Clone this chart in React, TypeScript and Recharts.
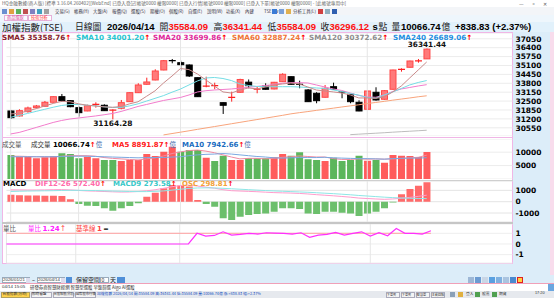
import React from 'react';
import { ComposedChart, Bar, Line, XAxis, YAxis, CartesianGrid, ReferenceLine, Cell } from 'recharts';

// ---------------- data ----------------
const dates = [
  '2026/01/21','2026/01/22','2026/01/23','2026/01/26','2026/01/27','2026/01/28','2026/01/29','2026/01/30',
  '2026/02/02','2026/02/03','2026/02/04','2026/02/05','2026/02/06','2026/02/09','2026/02/10','2026/02/11',
  '2026/02/23','2026/02/24','2026/02/25','2026/02/26',
  '2026/03/02','2026/03/03','2026/03/04','2026/03/05','2026/03/06','2026/03/09','2026/03/10','2026/03/11','2026/03/12','2026/03/13',
  '2026/03/16','2026/03/17','2026/03/18','2026/03/19','2026/03/20','2026/03/23','2026/03/24','2026/03/25','2026/03/26','2026/03/27',
  '2026/03/30','2026/03/31',
  '2026/04/01','2026/04/02','2026/04/07','2026/04/08','2026/04/09','2026/04/10','2026/04/13','2026/04/14',
];
const opens = [31779,31414,31728,32020,32122,32414,32823,32531,32020,31779,32239,32195,31830,31976,32458,33115,33728,34042,34772,35470,35305,35137,34210,33560,33600,32385,32750,33144,33882,33350,33604,33385,33918,34283,33750,33312,33071,32779,33553,33200,32998,32414,31903,33144,32633,33363,34790,34969,35430,35584.09];
const highs = [31852,31903,32093,32217,32509,32840,33020,32560,32120,32240,32414,32268,31903,32582,33150,33801,34210,34823,35502,35575,35451,35180,34230,34283,33845,32400,33188,34130,34078,33553,33801,33900,34530,34300,33991,33380,33150,33677,33845,33220,33020,32560,33260,33509,33300,34790,34896,35450,35575,36341.44];
const lows = [31195,31380,31655,31976,32100,32400,32458,32050,31363,31760,32020,31780,31164.28,31903,32440,33100,33700,34020,34750,35261,34721,34261,32800,33509,33363,31560,32458,33120,33436,33071,33340,33360,33900,33700,33436,32436,32341,32760,33340,32706,32341,31760,31880,32530,32610,33340,34648,34950,35305,35584.09];
const closes = [31290,31801,31998,32144,32414,32823,32531,32093,31655,32166,32290,31801,31852,32385,33115,33677,33896,34699,35451,35430,35159,34334,32823,33640,33650,32195,32800,34078,33626,33410,33363,33874,34458,33728,33700,32458,32531,33436,33363,33130,32458,31779,33239,32582,33261,34772,34850,35429,35457.29,36296.12];

const sma5 = [31560,31620,31780,31950,32140,32330,32480,32450,32300,32200,32140,32080,32050,32100,32300,32450,32850,33250,33820,34330,34880,34800,34480,34040,33600,33170,33090,33310,33460,33390,33530,33680,33750,33820,33750,33530,33310,33240,33170,33090,32950,32730,32730,32700,32800,33170,33600,34190,34770,35358.76];
const sma10 = [31320,31450,31600,31750,31900,32050,32180,32250,32250,32200,32150,32080,32030,32040,32150,32300,32500,32700,32900,33150,33380,33680,33970,34190,34225,34150,34000,33750,33640,33570,33550,33550,33550,33553,33530,33495,33460,33420,33312,33200,33057,32935,32765,32706,32947,33165,33420,33680,33860,34001.20];
const sma20 = [30100,30210,30390,30575,30757,30940,31085,31195,31268,31341,31414,31502,31597,31743,31925,32108,32254,32400,32546,32655,32765,32947,33166,33261,33312,33349,33385,33443,33509,33568,33640,33713,33801,33845,33845,33823,33677,33531,33385,33276,33093,32911,32801,32779,32947,33203,33385,33495,33604,33699.86];
const sma60 = [null,null,null,null,null,null,null,null,null,null,null,null,null,null,null,null,null,null,30030,30130,30230,30330,30436,30538,30640,30742,30845,30947,31049,31151,31254,31356,31458,31568,31655,31735,31823,31903,31984,32071,32151,32232,32319,32400,32480,32568,32648,32728,32816,32887.24];
const sma120 = [null,null,null,null,null,null,null,null,null,null,null,null,null,null,null,null,null,null,null,null,null,null,null,null,null,null,null,null,null,null,null,null,null,null,null,null,null,null,null,null,30050,30085,30120,30155,30190,30230,30265,30300,30335,30372.62];
const sma240Latest = 26689.06;

const volume = [8955,8321,8321,7724,8100,8582,9590,9340,7724,8321,7724,7090,7090,6716,7090,7090,9328,8582,10187,12052,10187,10820,10820,7948,6716,8694,7090,7090,7724,7724,7724,8100,9328,8694,9963,7351,7090,6716,7948,6716,7090,8694,6840,7090,6082,8955,8694,8582,8209,10066.74];
const volDir = [-1,1,1,1,1,1,-1,-1,-1,1,1,-1,-1,1,1,1,1,1,1,1,-1,-1,-1,1,-1,-1,1,1,-1,-1,-1,1,1,-1,-1,-1,-1,1,-1,-1,-1,-1,1,-1,1,1,1,1,1,1];
const volMa5 = [8500,8500,8400,8300,8300,8200,8500,8700,8700,8700,8500,8000,7700,7500,7300,7100,7500,7900,8600,9500,10100,10600,10800,10400,9800,9000,8200,7500,7700,7700,7500,7700,8100,8300,8600,8400,8200,8200,7600,7300,7300,7500,7400,7500,7400,7500,7700,7900,8100,8891.87];
const volMa10 = [8300,8300,8300,8300,8300,8300,8400,8500,8500,8500,8400,8300,8200,8100,8000,7900,8000,8000,8000,8200,8300,8700,9000,9200,9300,9500,9300,9000,8700,8400,8200,7900,7800,7900,8000,8000,8000,8100,7900,7800,7700,7600,7600,7500,7400,7600,7700,7800,7800,7942.66];

const dif = [1050,1040,1030,1030,1040,1060,1070,1040,990,950,930,900,870,850,860,900,960,1050,1180,1320,1430,1460,1380,1280,1190,1060,970,940,910,880,840,800,780,760,730,680,620,570,520,460,400,320,280,240,210,240,300,380,470,572.40];
const macd9 = [900,920,940,950,960,970,990,1000,1000,990,980,960,940,920,900,890,890,910,950,1020,1100,1170,1210,1220,1210,1180,1140,1100,1060,1020,980,950,920,890,860,830,790,750,710,660,610,550,500,450,400,360,330,300,285,273.58];
const osc = [620,560,540,540,530,520,500,210,-204,-354,-383,-584,-796,-584,-383,-142,442,796,1186,1480,1420,1330,150,-204,-442,-1469,-1619,-1325,-1177,-1090,-1030,-885,-584,-584,-643,-1030,-1090,-885,-885,-973,-1030,-1265,-1030,-885,-584,-60,652,1119,1410,1709];
const oscLatest = 298.81;

const volRatio = [0,0,0,0,0,0,0,0,0,0,0,0,0,0,0,0,0,0,0,0,0,0,1.0,0.74,0.8,1.14,0.83,0.9,1.0,0.93,1.05,1.02,1.0,0.93,1.05,0.62,0.83,0.9,1.08,0.83,1.0,1.14,0.74,1.05,0.77,1.45,1.0,1.0,0.93,1.24];
const ratioBase = 1;

const priceTicks = [30550,31200,31850,32500,33150,33800,34450,35100,35750,36400,37050];
const volTicks = [5000, 10000];
const macdTicks = [-1000, 0, 1000];
const ratioTicks = [-1, 0, 1];

// ---------------- derived table ----------------
const rows = dates.map((d, i) => ({
  d, o: opens[i], h: highs[i], l: lows[i], c: closes[i],
  s5: sma5[i], s10: sma10[i], s20: sma20[i], s60: sma60[i], s120: sma120[i],
  v: volume[i], vd: volDir[i], vm5: volMa5[i], vm10: volMa10[i],
  dif: dif[i], m9: macd9[i], osc: osc[i], vr: volRatio[i],
}));
const maxIdx = highs.indexOf(Math.max(...highs));
const minIdx = lows.indexOf(Math.min(...lows));
const monthTicks = dates.filter((d, i) => i === 0 || d.slice(5, 7) !== dates[i - 1].slice(5, 7));
const last = <T,>(a: T[]) => a[a.length - 1];
const n = dates.length;
const chg = closes[n - 1] - closes[n - 2];
const pct = (chg / closes[n - 2]) * 100;

// ---------------- styling ----------------
const CJK = '"Noto Sans CJK TC", "Noto Sans", sans-serif';
const DV = '"DejaVu Sans", Verdana, sans-serif';
const LS = '"Liberation Sans", Arial, sans-serif';
const W = 554;
const PL = 6.45;
const AXW = 41.55;
const PAD_R = 81.5;
const DATE_PAD_R = 107;

const RightTick = (props: any) => {
  const { x, y, payload } = props;
  return (
    <text x={x} y={y} dy={2.8} textAnchor="start" fontSize={7.5} fontWeight="bold" fontFamily={DV} fill="#000">
      {payload.value}
    </text>
  );
};

const DateTick = (props: any) => {
  const { x, y, payload } = props;
  const v: string = payload.value;
  const first = v === dates[0];
  return (
    <text x={first ? x - 3.5 : x} y={y} dy={6.2} textAnchor={first ? 'start' : 'middle'} fontSize={7.6} fontFamily={LS} fill="#3a9be0">
      {first ? v : v.slice(5, 7)}
    </text>
  );
};

const CandleShape = (props: any) => {
  const { x, y, width, height, payload, index } = props;
  if (!payload || x == null || y == null) return null;
  const top = Math.min(y, y + height);
  const bot = Math.max(y, y + height);
  const span = payload.h - payload.l;
  const py = (v: number) => (span > 0 ? top + ((payload.h - v) / span) * (bot - top) : top);
  const up = payload.c >= payload.o;
  const cx = x + width / 2;
  const y1 = py(Math.max(payload.o, payload.c));
  const y2 = py(Math.min(payload.o, payload.c));
  const bh = y2 - y1;
  const wick = up ? '#ff2020' : '#000';
  return (
    <g>
      <line x1={cx} x2={cx} y1={top} y2={bot} stroke={wick} strokeWidth={1} />
      {bh < 1.6 ? (
        <line x1={x} x2={x + width} y1={(y1 + y2) / 2} y2={(y1 + y2) / 2} stroke={wick} strokeWidth={1.3} />
      ) : (
        <rect x={x + 0.5} y={y1} width={width - 1} height={bh} fill={up ? '#ff7a7a' : '#000'} stroke={up ? '#ff4848' : '#000'} strokeWidth={1} />
      )}
      {index === maxIdx && (
        <text x={cx} y={top - 1.6} textAnchor="middle" fontSize={7.3} fontWeight="bold" fontFamily={DV} fill="#111">
          {payload.h.toFixed(2)}
        </text>
      )}
      {index === minIdx && (
        <text x={cx} y={bot + 6.2} textAnchor="middle" fontSize={7.5} fontWeight="bold" fontFamily={DV} fill="#111">
          {payload.l.toFixed(2)}
        </text>
      )}
    </g>
  );
};

const Txt = (p: any) => (
  <div
    style={{
      position: 'absolute', left: p.x, top: p.y, fontSize: p.s || 7, color: p.c || '#000',
      fontWeight: p.w || 400, fontFamily: p.f || CJK, lineHeight: 1, whiteSpace: 'nowrap', ...(p.style || {}),
    }}
  >
    {p.children}
  </div>
);

const Arrow = () => <span style={{ color: '#ff0000' }}>↑</span>;
const Yi = () => <span style={{ fontFamily: CJK, fontWeight: 400, color: '#4a70b0', fontSize: 6.5 }}>億</span>;

const Box = (p: any) => (
  <div style={{ position: 'absolute', left: p.x, top: p.y, width: p.w, height: p.h, background: p.bg || 'transparent', border: p.b || 'none', boxSizing: 'border-box' }} />
);

const vGrid = monthTicks.map((m) => <ReferenceLine key={m} x={m} stroke="#e6e6e6" strokeWidth={1} />);

export default function App() {
  const menus = ['交易(G)', '帳務(H)', '大盤(A)', '報價(Q)', '選股(S)', '期權(O)', '個股(R)', '自選(E)', '說明(W)', '功能(X)', '內建', 'TSE Tw'];
  const hdrNum = { s: 9.5, f: LS, w: 700 };
  return (
    <div style={{ position: 'fixed', left: 0, top: 0, width: W, height: 298, overflow: 'hidden', background: '#dcedf9', fontFamily: CJK }}>
      {/* title bar */}
      <Box x={0} y={0} w={554} h={7} bg="#ffffff" />
      <Txt x={2} y={1.2} s={4.6} c="#666">HQ金融數據(商人版) [標準 3.16.04.260402][WebEnd] 已登入登記[帳號0000 權限0000] 已登入行情[帳號0000 權限0000] 已登入下單[帳號0000 權限0000] - [此帳號專用中]</Txt>
      <Txt x={519} y={0.6} s={5.2} c="#555">—</Txt>
      <Txt x={531} y={0.6} s={5.2} c="#555">▫</Txt>
      <Txt x={543} y={0.6} s={5.2} c="#555">✕</Txt>
      {/* toolbar */}
      <Box x={0} y={7} w={554} h={8} bg="#f3f5f8" />
      {[2, 9, 16, 23, 30, 37, 44].map((xx, i) => (
        <Box key={i} x={xx} y={8.5} w={5} h={5} bg={['#6a8fd0', '#e0a040', '#5ab05a', '#c05050', '#8080c0', '#40a0c0', '#a0a0a0'][i]} />
      ))}
      {menus.map((m, i) => (
        <Txt key={m} x={55 + i * 19} y={9} s={4.4} c="#334">{m}</Txt>
      ))}
      {[272, 279, 286].map((xx, i) => <Box key={i} x={xx} y={8.5} w={5} h={5} bg={['#3a7bd5', '#7aa0d8', '#e0b050'][i]} />)}
      <Txt x={293} y={9} s={4.4} c="#334">分析工具(L)</Txt>
      {[318, 325, 332].map((xx, i) => <Box key={i} x={xx} y={8.5} w={5} h={5} bg={['#d04040', '#90b0c0', '#3060b0'][i]} />)}
      {/* tabs */}
      <Box x={0} y={15} w={554} h={7} bg="#eef6fc" />
      <Box x={4} y={15.3} w={24} h={6.2} bg="#f7fbff" b="1px solid #e6b0d8" />
      <Txt x={7} y={15.4} s={4.2} c="#e04090">商品選取</Txt>
      <Box x={28} y={15.3} w={24} h={6.2} bg="#ffffff" b="1px solid #e6b0d8" />
      <Txt x={31} y={15.4} s={4.2} c="#ff3030">技術分析</Txt>
      {/* header */}
      <Box x={0} y={22} w={554} h={10} bg="#e2f1fb" />
      <Txt x={2} y={22.6} s={9.5} c="#222">加權指數(TSE)</Txt>
      <Txt x={75} y={22.6} s={8.8} c="#222">日線圖</Txt>
      <Txt x={107} y={22.4} {...hdrNum}>{'2026/04/14'}</Txt>
      <Txt x={159.5} y={22.6} s={8.8} c="#222">開</Txt>
      <Txt x={168.5} y={22.4} {...hdrNum} c="#ff1010">{last(opens).toFixed(2)}</Txt>
      <Txt x={213.5} y={22.6} s={8.8} c="#222">高</Txt>
      <Txt x={222.5} y={22.4} {...hdrNum} c="#ff1010">{last(highs).toFixed(2)}</Txt>
      <Txt x={267.5} y={22.6} s={8.8} c="#222">低</Txt>
      <Txt x={276.5} y={22.4} {...hdrNum} c="#ff1010">{last(lows).toFixed(2)}</Txt>
      <Txt x={320.5} y={22.6} s={8.8} c="#222">收</Txt>
      <Txt x={329.5} y={22.4} {...hdrNum} c="#ff1010">{last(closes).toFixed(2)}</Txt>
      <Txt x={372.5} y={22.4} {...hdrNum}>s</Txt>
      <Txt x={378.5} y={22.6} s={8.8} c="#222">點</Txt>
      <Txt x={391.5} y={22.6} s={8.8} c="#222">量</Txt>
      <Txt x={401} y={22.4} {...hdrNum}>{last(volume).toFixed(2)}</Txt>
      <Txt x={441.5} y={22.6} s={8.8} c="#222">億</Txt>
      <Txt x={455} y={22.4} {...hdrNum}>{`+${chg.toFixed(2)} (+${pct.toFixed(2)}%)`}</Txt>

      {/* panel backgrounds */}
      <Box x={2} y={32} w={510.5} h={231.5} bg="#ffffff" b="1px solid #f0b6e6" />
      <Box x={2} y={137} w={510.5} h={1} bg="#f0b6e6" />
      <Box x={2} y={180} w={510.5} h={1} bg="#cfcfcf" />
      <Box x={2} y={222} w={510.5} h={1.6} bg="#c6c6c6" />
      <Box x={550} y={32} w={4} h={243} bg="#f8dcec" />

      {/* main price chart */}
      <div style={{ position: 'absolute', left: 0, top: 33 }}>
        <ComposedChart width={W} height={103} data={rows} margin={{ top: 0, right: 0, bottom: 0, left: PL }}>
          <CartesianGrid vertical={false} stroke="#ececec" />
          <XAxis dataKey="d" hide padding={{ left: 0, right: PAD_R }} />
          <YAxis orientation="right" width={AXW} domain={[29951, 37473]} ticks={priceTicks} interval={0} allowDataOverflow
            tickLine={false} axisLine={false} tickSize={0} tickMargin={3} tick={<RightTick />} />
          {vGrid}
          <Line dataKey="s120" stroke="#bdbdbd" strokeWidth={1} dot={false} isAnimationActive={false} />
          <Line dataKey="s60" stroke="#f8a47c" strokeWidth={1} dot={false} isAnimationActive={false} />
          <Line dataKey="s20" stroke="#f27ccc" strokeWidth={1} dot={false} isAnimationActive={false} />
          <Line dataKey="s10" stroke="#74dde4" strokeWidth={1} dot={false} isAnimationActive={false} />
          <Line dataKey="s5" stroke="#c98a8a" strokeWidth={1} dot={false} isAnimationActive={false} />
          <Bar dataKey={(r: any) => [r.l, r.h]} barSize={7} shape={<CandleShape />} isAnimationActive={false} />
        </ComposedChart>
      </div>
      {/* SMA legend */}
      <Txt x={2} y={33.6} s={7.2} f={DV} w={700} c="#86202a">SMA5 {last(sma5).toFixed(2)}<Arrow /></Txt>
      <Txt x={76} y={33.6} s={7.2} f={DV} w={700} c="#28c4d0">SMA10 {last(sma10).toFixed(2)}<Arrow /></Txt>
      <Txt x={153} y={33.6} s={7.2} f={DV} w={700} c="#e0289a">SMA20 {last(sma20).toFixed(2)}<Arrow /></Txt>
      <Txt x={232} y={33.6} s={7.2} f={DV} w={700} c="#f07436">SMA60 {(last(sma60) as number).toFixed(2)}<Arrow /></Txt>
      <Txt x={309} y={33.6} s={7.2} f={DV} w={700} c="#8e8e8e">SMA120 {(last(sma120) as number).toFixed(2)}<Arrow /></Txt>
      <Txt x={393} y={33.6} s={7.2} f={DV} w={700} c="#1e8ee0">SMA240 {sma240Latest.toFixed(2)}<Arrow /></Txt>

      {/* volume chart */}
      <div style={{ position: 'absolute', left: 0, top: 139 }}>
        <ComposedChart width={W} height={40} data={rows} margin={{ top: 0, right: 0, bottom: 0, left: PL }}>
          <CartesianGrid vertical={false} stroke="#ececec" />
          <XAxis dataKey="d" hide padding={{ left: 0, right: PAD_R }} />
          <YAxis orientation="right" width={AXW} domain={[0, 14925]} ticks={volTicks} interval={0} allowDataOverflow
            tickLine={false} axisLine={false} tickSize={0} tickMargin={3} tick={<RightTick />} />
          {vGrid}
          <Bar dataKey="v" barSize={7} isAnimationActive={false}>
            {rows.map((r, i) => (
              <Cell key={i} fill={r.vd > 0 ? '#ff5c5c' : '#5cb65c'} />
            ))}
          </Bar>
          <Line dataKey="vm5" stroke="#f08aa0" strokeWidth={1} dot={false} isAnimationActive={false} />
          <Line dataKey="vm10" stroke="#7aa8e0" strokeWidth={1} dot={false} isAnimationActive={false} />
        </ComposedChart>
      </div>
      <Txt x={2} y={140.8} s={6.5} c="#555">成交量</Txt>
      <Txt x={31} y={140.8} s={6.5} c="#333">成交量</Txt>
      <Txt x={53} y={141} s={7} f={DV} w={700}>{last(volume).toFixed(2)}<Arrow /><Yi /></Txt>
      <Txt x={112} y={141} s={7} f={DV} w={700} c="#ff2020">MA5 {last(volMa5).toFixed(2)}<Arrow /><Yi /></Txt>
      <Txt x={182} y={141} s={7} f={DV} w={700} c="#1a6cc0">MA10 {last(volMa10).toFixed(2)}<Arrow /><Yi /></Txt>

      {/* MACD chart */}
      <div style={{ position: 'absolute', left: 0, top: 181 }}>
        <ComposedChart width={W} height={41} data={rows} margin={{ top: 0, right: 0, bottom: 0, left: PL }}>
          <CartesianGrid vertical={false} stroke="#e4e4e4" />
          <XAxis dataKey="d" hide padding={{ left: 0, right: PAD_R }} />
          <YAxis orientation="right" width={AXW} domain={[-1789, 1824]} ticks={macdTicks} interval={0} allowDataOverflow
            tickLine={false} axisLine={false} tickSize={0} tickMargin={3} tick={<RightTick />} />
          {vGrid}
          <Bar dataKey="osc" barSize={7} isAnimationActive={false}>
            {rows.map((r, i) => (
              <Cell key={i} fill={r.osc >= 0 ? '#ff6a6a' : '#6cbf6c'} />
            ))}
          </Bar>
          <Line dataKey="dif" stroke="#ff9ccc" strokeWidth={1} dot={false} isAnimationActive={false} />
          <Line dataKey="m9" stroke="#8ee6e6" strokeWidth={1} dot={false} isAnimationActive={false} />
        </ComposedChart>
      </div>
      <Txt x={3} y={181} s={7} f={DV} w={700}>MACD</Txt>
      <Txt x={35} y={181} s={7} f={DV} w={700} c="#ff6aaa">DIF12-26 {last(dif).toFixed(2)}<Arrow /></Txt>
      <Txt x={113} y={181} s={7} f={DV} w={700} c="#38c8c8">MACD9 {last(macd9).toFixed(2)}<Arrow /></Txt>
      <Txt x={182} y={181} s={7} f={DV} w={700} c="#f2a238">OSC {oscLatest.toFixed(2)}<Arrow /></Txt>

      {/* volume ratio chart + date axis */}
      <div style={{ position: 'absolute', left: 0, top: 224 }}>
        <ComposedChart width={W} height={53} data={rows} margin={{ top: 0, right: 0, bottom: 0, left: PL }}>
          <CartesianGrid vertical={false} stroke="#eeeeee" />
          <XAxis dataKey="d" hide padding={{ left: 0, right: PAD_R }} />
          <XAxis xAxisId="date" dataKey="d" height={14} padding={{ left: 0, right: DATE_PAD_R }} ticks={monthTicks} interval={0}
            axisLine={false} tickLine={{ stroke: '#9cc8ea' }} tickSize={4} tickMargin={2} tick={<DateTick />} />
          <YAxis orientation="right" width={AXW} domain={[-1.78, 1.87]} ticks={ratioTicks} interval={0} allowDataOverflow
            tickLine={false} axisLine={false} tickSize={0} tickMargin={3} tick={<RightTick />} />
          {vGrid}
          <ReferenceLine segment={[{ x: dates[0], y: ratioBase }, { x: dates[n - 1], y: ratioBase }]} stroke="#ffa0a0" strokeWidth={1} />
          <Line xAxisId="date" dataKey="vr" stroke="none" strokeOpacity={0} dot={false} isAnimationActive={false} />
          <Line dataKey="vr" stroke="#ff30ff" strokeWidth={1.2} dot={false} isAnimationActive={false} />
        </ComposedChart>
      </div>
      <Txt x={3} y={224.5} s={6.5} c="#555">量比</Txt>
      <Txt x={28} y={224.5} s={6.5} c="#ff20ff">量比 <span style={{ fontFamily: DV, fontWeight: 700, fontSize: 7 }}>{last(volRatio).toFixed(2)}</span><Arrow /></Txt>
      <Txt x={76} y={224.5} s={6.5} c="#ff4040">基準線 <span style={{ fontFamily: DV, fontWeight: 700, fontSize: 7 }}>{ratioBase}</span> <span style={{ color: '#000', fontFamily: DV, fontWeight: 700 }}>=</span></Txt>

      {/* control row */}
      <Box x={2} y={277} w={28} h={6} bg="#ffffff" b="1px solid #9ab" />
      <Txt x={3} y={278.2} s={4.4} f={LS} c="#333">2026/01/21</Txt>
      <Box x={26} y={277.5} w={4} h={5} bg="#dde" />
      <Txt x={32} y={277.5} s={5} f={LS} c="#333">~</Txt>
      <Box x={37} y={277} w={28} h={6} bg="#ffffff" b="1px solid #9ab" />
      <Txt x={38} y={278.2} s={4.4} f={LS} c="#333">2026/04/14</Txt>
      <Box x={61} y={277.5} w={4} h={5} bg="#dde" />
      <Box x={66} y={277} w={6} h={6} bg="#4f8fd8" />
      <Txt x={76} y={277} s={6} c="#222">保留空間</Txt>
      <Box x={100} y={277} w={9} h={6} bg="#ffffff" b="1px solid #9ab" />
      <Txt x={101.5} y={277.8} s={5} f={LS} c="#333">0</Txt>
      <Txt x={110} y={277} s={6} c="#222">天</Txt>
      <Box x={117} y={277} w={8} h={6} bg="#4f8fd8" />
      {[468, 475, 482, 489, 496, 503, 510].map((xx, i) => (
        <Box key={i} x={xx} y={277} w={6} h={6} bg={['#9db7d6', '#6c9bd2', '#c9d6e6', '#5aa0e0', '#7fb0e0', '#aac4e0', '#4a8ad0'][i]} />
      ))}
      <Box x={517} y={277} w={6} h={6} bg="#ffd040" b="1px solid #e02020" />
      <Box x={0} y={283} w={554} h={1} bg="#f0a0b8" />
      {/* message row */}
      <Box x={0} y={284} w={554} h={7} bg="#ffffff" />
      <Txt x={2} y={285.3} s={4.4} f={LS} c="#333">04/14 15:05</Txt>
      <Txt x={30} y={285.2} s={4.4} c="#333">研發券商智慧財經網 智慧型選股 早盤篩選 Algo AI選股</Txt>
      <Box x={548} y={284} w={6} h={7} bg="#6aa6e0" />
      {/* taskbar */}
      <Box x={0} y={291} w={554} h={7} bg="#e6e9ee" />
      <Box x={1} y={291.5} w={29} h={6} bg="#ffd24a" b="1px solid #b0a060" />
      <Txt x={2.5} y={292.1} s={3.7} c="#333">台股指數(分時)</Txt>
      {[['即時看盤', 31, 3.7], ['台股報價(分析)', 53, 3.1], ['國際股市行情', 75, 3.3]].map(([t, xx, fs]) => (
        <React.Fragment key={t as string}>
          <Box x={xx as number} y={291.5} w={21} h={6} bg="#f4f4f4" b="1px solid #aab" />
          <Txt x={(xx as number) + 0.8} y={292.3} s={fs} c="#333">{t}</Txt>
        </React.Fragment>
      ))}
      <Txt x={97} y={292.1} s={3.8} c="#2050c0">加權指數 2026/04/14 開:35584.09 高:36341.44 低:35584.09 量:10066.74億 漲:+838.83 幅:+2.37%</Txt>
      {[['下單夾', 386], ['下單夾', 401], ['智慧單', 416], ['主動回報', 431]].map(([t, xx], i) => (
        <React.Fragment key={i}>
          <Box x={xx as number} y={291.5} w={14} h={6} bg="#f4f4f4" b="1px solid #aab" />
          <Txt x={(xx as number) + 0.8} y={292.5} s={3.1} c="#333">{t}</Txt>
        </React.Fragment>
      ))}
      <Box x={450} y={292} w={5} h={5} bg="#8aa0b8" />
      <Box x={458} y={292} w={5} h={5} bg="#e0b040" />
      <Txt x={466} y={292.1} s={3.8} c="#333">登入</Txt>
      <Box x={475} y={292} w={5} h={5} bg="#50a050" />
      <Txt x={482} y={292.1} s={3.8} c="#333">股票</Txt>
      <Box x={492} y={292} w={5} h={5} bg="#50a050" />
      <Txt x={499} y={292.1} s={3.8} c="#333">期貨</Txt>
      <Txt x={535} y={292.1} s={3.8} f={LS} c="#333">17:20</Txt>
    </div>
  );
}
